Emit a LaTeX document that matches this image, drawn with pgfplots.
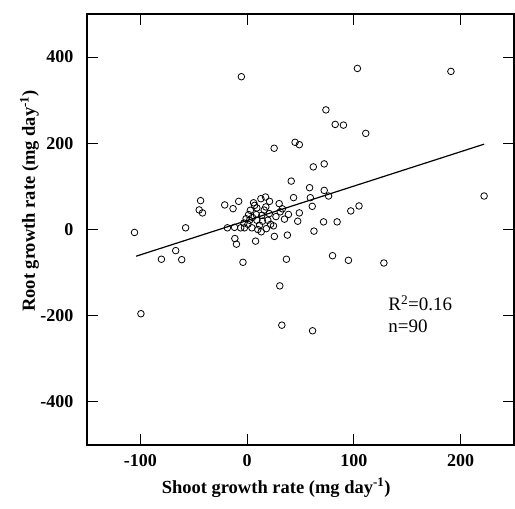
\documentclass[border=0pt]{standalone}
\usepackage{fontspec}
\setmainfont{Liberation Serif}
\usepackage{pgfplots}
\pgfplotsset{compat=1.18}
\begin{document}
\begin{tikzpicture}
\begin{axis}[
  scale only axis,
  width=427pt, height=431pt,
  xmin=-150, xmax=250, ymin=-500, ymax=500,
  xtick={-100,0,100,200}, xticklabels={{-100},{0},{100},{200}},
  ytick={-400,-200,0,200,400}, yticklabels={{-400},{-200},{0},{200},{400}},
  tick align=inside, major tick length=11pt,
  axis line style={line width=1.3pt},
  tick style={line width=1pt, black},
  tick label style={font=\fontsize{18}{20}\selectfont\bfseries},
  xticklabel style={yshift=-6pt},
  yticklabel style={xshift=-10pt},
  xlabel={Shoot growth rate (mg day\textsuperscript{-1})},
  ylabel={Root growth rate (mg day\textsuperscript{-1})},
  label style={font=\fontsize{18.5}{20}\selectfont\bfseries},
  xlabel style={at={(rel axis cs:0.443,-0.1114)}, anchor=base},
  ylabel style={at={(rel axis cs:-0.1218,0.566)}, anchor=base},
  clip=false,
]
\addplot[only marks, mark=o, mark size=3.3pt, mark options={line width=0.8pt, black}] coordinates {
(-5.4,354.5) (103.3,373.7) (190.9,366.8) (73.8,277.5) (82.5,243.8) (90.2,242.2)
(111.1,223) (44.9,202.3) (48.9,196.8) (25.3,188.5) (62,145.3) (72.2,152.2)
(41.3,112.3) (58.5,97) (72.2,90.7) (76.3,77.7) (43.5,74) (59.2,73.8)
(61,53.8) (30,60) (31,41) (38.7,35) (48.9,38.5) (35,24) (47.4,19.2)
(97.1,43.1) (104.8,54.6) (71.6,17.7) (84.3,17.7) (62.6,-3.8) (37.7,-13)
(36.8,-69) (80,-60.8) (94.9,-71.5) (128.1,-77.7) (222,77.7) (-3.9,-76.1)
(30.6,-130.8) (32.5,-222) (61.3,-235) (-10,-34) (7.9,-27) (25.5,-16)
(-99.5,-195.4) (-80.3,-69) (-61.3,-70) (-105.5,-6.9) (-57.6,3.9)
(-43.6,66.9) (-44.9,45.4) (-41.8,38.5) (-66.9,-49) (-21,57) (-13.2,48.4)
(-7.9,65.3) (-18.5,3.9) (-11.8,5) (-6,3.9) (-11.5,-21) (12.9,71.5)
(17.2,75.4) (21,65.3) (24.7,8.5) (3,44.5) (1.4,34.6) (2.3,21.5) (0.7,12.2)
(-2.5,3.9) (4.5,3.9) (9.1,50) (8.6,34.6) (9.1,21.5) (13.8,33) (14.4,19.2)
(11.6,9.9) (13.2,-5.3) (19.4,21.5) (20.7,36.9) (17.5,52.4) (7,56)
(5,28) (16,45) (-1,25) (22,12) (10,0) (27,30) (-3,15) (18,2) (6,62) (33,48)
};
\addplot[black, line width=1.2pt] coordinates {(-104,-62) (222,198)};
\node[anchor=base west, font=\fontsize{19}{21}\selectfont] at (axis cs:129,-189) {R\textsuperscript{2}=0.16};
\node[anchor=base west, font=\fontsize{19}{21}\selectfont] at (axis cs:129,-238) {n=90};
\end{axis}
\path ([shift={(-87pt,-63pt)}]current axis.south west) rectangle ([shift={(1pt,14pt)}]current axis.north east);
\end{tikzpicture}
\end{document}
